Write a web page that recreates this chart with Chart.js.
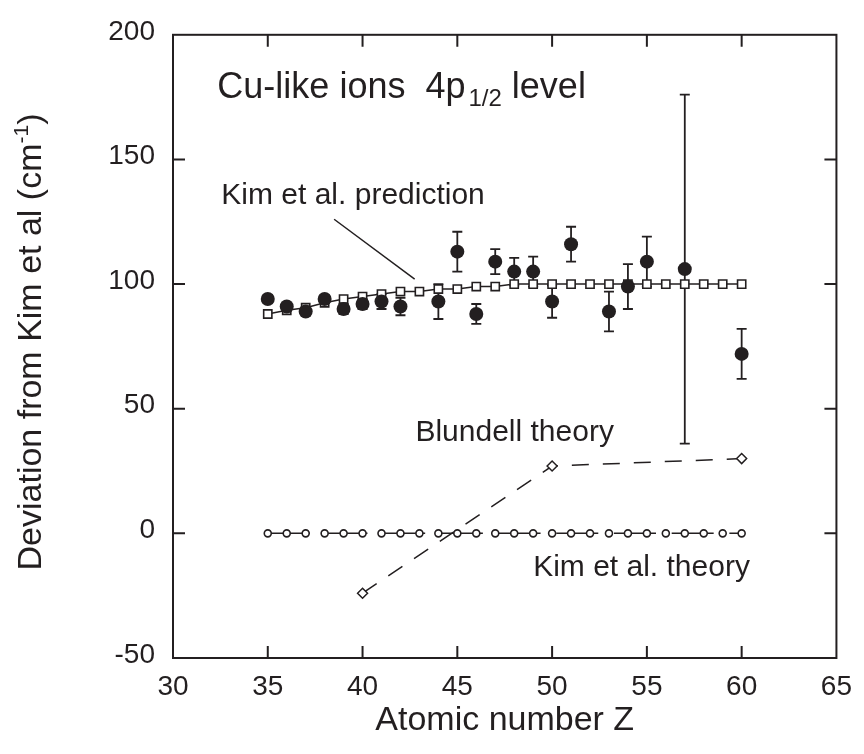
<!DOCTYPE html>
<html>
<head>
<meta charset="utf-8">
<script src="https://cdn.jsdelivr.net/npm/chart.js@4.4.0/dist/chart.umd.min.js"></script>
<style>
  body { margin: 0; background: #fff; }
  #wrap { width: 864px; height: 754px; }
</style>
</head>
<body>
<div id="wrap"><canvas id="devChart" width="864" height="754"></canvas></div>
<script>
// atomic numbers Z used by the two Kim et al. curves
const zValues = [35, 36, 37, 38, 39, 40, 41, 42, 43, 44, 45, 46, 47, 48, 49, 50, 51, 52, 53, 54, 55, 56, 57, 58, 59, 60];
const kimPrediction = [88, 89.5, 90.5, 92.5, 94, 95, 96, 97, 97, 98, 98, 99, 99, 100, 100, 100, 100, 100, 100, 100, 100, 100, 100, 100, 100, 100];
const kimTheory = [0, 0, 0, 0, 0, 0, 0, 0, 0, 0, 0, 0, 0, 0, 0, 0, 0, 0, 0, 0, 0, 0, 0, 0, 0, 0];

// measured deviations with their error bars
const expZ = [35, 36, 37, 38, 39, 40, 41, 42, 44, 45, 46, 47, 48, 49, 50, 51, 53, 54, 55, 57, 60];
const expDev = [94, 91, 89, 94, 90, 92, 93, 91, 93, 113, 88, 109, 105, 105, 93, 116, 89, 99, 109, 106, 72];
const expErr = [1.5, 1.5, 1.5, 1.5, 2, 2, 3, 3.5, 7, 8, 4, 5, 5.5, 6, 6.5, 7, 8, 9, 10, 70, 10];

const blundellZ = [40, 50, 60];
const blundellDev = [-24, 27, 30];

// axis ticks
const xTickValues = [30, 35, 40, 45, 50, 55, 60, 65];
const yTickValues = [-50, 0, 50, 100, 150, 200];

const ink = '#231f20';
const family = '"Liberation Sans", Arial, Helvetica, sans-serif';

function pts(xs, ys) {
    return xs.map((x, i) => ({ x: x, y: ys[i] }));
}

// text and leader line, placed in data units
const notes = [
    { x: 42.79, y: 37.1, text: 'Blundell theory' },
    { x: 49.0, y: -17.2, text: 'Kim et al. theory' },
    { x: 32.55, y: 132.1, text: 'Kim et al. prediction' }
];
const leader = { x1: 38.5, y1: 126, x2: 42.75, y2: 102 };

const overlay = {
    id: 'overlay',
    beforeDatasetsDraw(chart) {
        const ctx = chart.ctx;
        const xs = chart.scales.x, ys = chart.scales.y;
        ctx.save();
        ctx.strokeStyle = ink;
        ctx.lineWidth = 1.8;
        expZ.forEach((z, i) => {
            const px = xs.getPixelForValue(z);
            const top = ys.getPixelForValue(expDev[i] + expErr[i]);
            const bot = ys.getPixelForValue(expDev[i] - expErr[i]);
            ctx.beginPath();
            ctx.moveTo(px, top); ctx.lineTo(px, bot);
            ctx.moveTo(px - 5, top); ctx.lineTo(px + 5, top);
            ctx.moveTo(px - 5, bot); ctx.lineTo(px + 5, bot);
            ctx.stroke();
        });
        ctx.restore();
    },
    afterDraw(chart) {
        const ctx = chart.ctx;
        const a = chart.chartArea;
        const xs = chart.scales.x, ys = chart.scales.y;
        ctx.save();
        // frame with inward ticks
        ctx.strokeStyle = ink;
        ctx.lineWidth = 2;
        ctx.strokeRect(a.left, a.top, a.right - a.left, a.bottom - a.top);
        ctx.beginPath();
        xTickValues.slice(1, -1).forEach(v => {
            const px = xs.getPixelForValue(v);
            ctx.moveTo(px, a.bottom); ctx.lineTo(px, a.bottom - 12);
            ctx.moveTo(px, a.top); ctx.lineTo(px, a.top + 12);
        });
        yTickValues.slice(1, -1).forEach(v => {
            const py = ys.getPixelForValue(v);
            ctx.moveTo(a.left, py); ctx.lineTo(a.left + 12, py);
            ctx.moveTo(a.right, py); ctx.lineTo(a.right - 12, py);
        });
        ctx.stroke();

        // leader line for the prediction label
        ctx.lineWidth = 1.5;
        ctx.beginPath();
        ctx.moveTo(xs.getPixelForValue(leader.x1), ys.getPixelForValue(leader.y1));
        ctx.lineTo(xs.getPixelForValue(leader.x2), ys.getPixelForValue(leader.y2));
        ctx.stroke();

        ctx.fillStyle = ink;
        ctx.textBaseline = 'alphabetic';
        ctx.textAlign = 'left';
        ctx.font = '30px ' + family;
        notes.forEach(n => {
            ctx.fillText(n.text, xs.getPixelForValue(n.x), ys.getPixelForValue(n.y));
        });

        // heading with subscript
        let hx = xs.getPixelForValue(32.34);
        const hy = ys.getPixelForValue(174.8);
        ctx.font = '36px ' + family;
        const head = 'Cu-like ions  4p';
        ctx.fillText(head, hx, hy);
        hx += ctx.measureText(head).width + 3;
        ctx.font = '24px ' + family;
        ctx.fillText('1/2', hx, hy + 8);
        hx += ctx.measureText('1/2').width;
        ctx.font = '36px ' + family;
        ctx.fillText(' level', hx, hy);

        // y axis title with superscript
        ctx.translate(41, 342);
        ctx.rotate(-Math.PI / 2);
        const t1 = 'Deviation from Kim et al (cm';
        ctx.font = '34px ' + family;
        const w1 = ctx.measureText(t1).width;
        ctx.font = '21px ' + family;
        const w2 = ctx.measureText('-1').width;
        ctx.font = '34px ' + family;
        const w3 = ctx.measureText(')').width;
        let tx = -(w1 + w2 + w3) / 2;
        ctx.fillText(t1, tx, 0);
        tx += w1;
        ctx.font = '21px ' + family;
        ctx.fillText('-1', tx, -13);
        tx += w2;
        ctx.font = '34px ' + family;
        ctx.fillText(')', tx, 0);
        ctx.restore();
    }
};

const ctx = document.getElementById('devChart').getContext('2d');

const devChart = new Chart(ctx, {
    type: 'scatter',
    data: {
        datasets: [
            {
                label: 'Experiment',
                data: pts(expZ, expDev),
                pointStyle: 'circle',
                pointRadius: 7,
                backgroundColor: ink,
                borderColor: ink,
                borderWidth: 0,
                order: 0
            },
            {
                label: 'Kim et al. prediction',
                data: pts(zValues, kimPrediction),
                showLine: true,
                borderColor: ink,
                borderWidth: 1.5,
                pointStyle: 'rect',
                pointRadius: 5.8,
                pointBackgroundColor: '#fff',
                pointBorderColor: ink,
                pointBorderWidth: 1.6,
                order: 1
            },
            {
                label: 'Kim et al. theory',
                data: pts(zValues, kimTheory),
                showLine: true,
                borderColor: ink,
                borderWidth: 1.5,
                borderDash: [42, 15.7],
                pointStyle: 'circle',
                pointRadius: 3.5,
                pointBackgroundColor: '#fff',
                pointBorderColor: ink,
                pointBorderWidth: 1.6,
                order: 2
            },
            {
                label: 'Blundell theory',
                data: pts(blundellZ, blundellDev),
                showLine: true,
                borderColor: ink,
                borderWidth: 1.5,
                borderDash: [17, 14],
                pointStyle: 'rectRot',
                pointRadius: 5,
                pointBackgroundColor: '#fff',
                pointBorderColor: ink,
                pointBorderWidth: 1.5,
                order: 3
            }
        ]
    },
    options: {
        responsive: false,
        animation: false,
        devicePixelRatio: 1,
        layout: { padding: { top: 32, right: 18, left: 0, bottom: 0 } },
        plugins: {
            legend: { display: false },
            tooltip: { enabled: false }
        },
        scales: {
            x: {
                type: 'linear',
                min: 30,
                max: 65,
                afterBuildTicks: s => { s.ticks = xTickValues.map(v => ({ value: v })); },
                afterFit: s => { s.height = 96; },
                grid: { drawOnChartArea: false, drawTicks: false },
                border: { display: false },
                ticks: { color: ink, padding: 12, font: { size: 28, family: family }, maxRotation: 0 },
                title: {
                    display: true,
                    text: 'Atomic number Z',
                    color: ink,
                    font: { size: 34, family: family },
                    padding: { top: 0, bottom: 13 }
                }
            },
            y: {
                type: 'linear',
                min: -50,
                max: 200,
                afterBuildTicks: s => { s.ticks = yTickValues.map(v => ({ value: v })); },
                afterFit: s => { s.width = 173; },
                grid: { drawOnChartArea: false, drawTicks: false },
                border: { display: false },
                ticks: { color: ink, padding: 18, labelOffset: -3, font: { size: 28, family: family } }
            }
        }
    },
    plugins: [overlay]
});
</script>
</body>
</html>
